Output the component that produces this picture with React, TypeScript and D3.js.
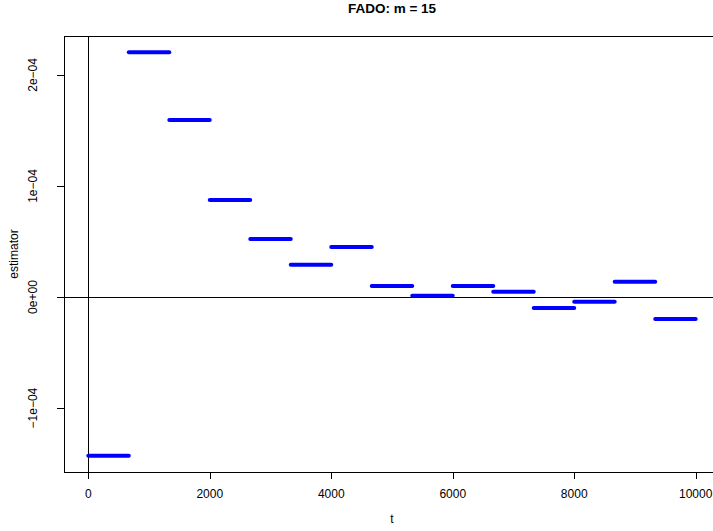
import React, { useEffect, useRef } from "react";
import * as d3 from "d3";

const m = 15;
const tMax = 10000;
const estimates = [
  -1.43e-4, 2.205e-4, 1.595e-4, 0.874e-4, 0.523e-4, 0.291e-4, 0.45e-4, 0.099e-4,
  0.012e-4, 0.099e-4, 0.048e-4, -0.099e-4, -0.042e-4, 0.138e-4, -0.198e-4,
];
const xTicks = [0, 2000, 4000, 6000, 8000, 10000];
const yTicks = [-1e-4, 0, 1e-4, 2e-4];
const yTickLabels = ["\u22121e\u221204", "0e+00", "1e\u221204", "2e\u221204"];

const App = () => {
  const svgRef = useRef<SVGSVGElement>(null);
  const width = 713;
  const height = 531;
  const plot = { left: 64, right: 720, top: 36, bottom: 472 };

  useEffect(() => {
    const svg = d3.select(svgRef.current);
    svg.selectAll("*").remove();

    const yMin = d3.min(estimates) as number;
    const yMax = d3.max(estimates) as number;
    const yPad = (yMax - yMin) * 0.04;

    const x = d3
      .scaleLinear()
      .domain([-tMax * 0.04, tMax * 1.04])
      .range([plot.left, plot.right]);
    const y = d3
      .scaleLinear()
      .domain([yMin - yPad, yMax + yPad])
      .range([plot.bottom, plot.top]);

    const font = "Liberation Sans, Arial, Helvetica, sans-serif";

    // box
    svg
      .append("rect")
      .attr("x", plot.left + 0.5)
      .attr("y", plot.top + 0.5)
      .attr("width", plot.right - plot.left)
      .attr("height", plot.bottom - plot.top)
      .attr("fill", "none")
      .attr("stroke", "black");

    // reference lines
    svg
      .append("line")
      .attr("x1", plot.left)
      .attr("x2", plot.right)
      .attr("y1", Math.round(y(0)) + 0.5)
      .attr("y2", Math.round(y(0)) + 0.5)
      .attr("stroke", "black");
    svg
      .append("line")
      .attr("x1", Math.round(x(0)) + 0.5)
      .attr("x2", Math.round(x(0)) + 0.5)
      .attr("y1", plot.top)
      .attr("y2", plot.bottom)
      .attr("stroke", "black");

    // segments
    const step = tMax / m;
    svg
      .append("g")
      .attr("stroke", "#0000ff")
      .attr("stroke-width", 4)
      .attr("stroke-linecap", "round")
      .selectAll("line")
      .data(estimates)
      .join("line")
      .attr("x1", (d, i) => x(i * step))
      .attr("x2", (d, i) => x((i + 1) * step))
      .attr("y1", (d) => y(d))
      .attr("y2", (d) => y(d));

    // x axis
    const gx = svg.append("g").attr("font-family", font).attr("font-size", 12);
    gx.append("line")
      .attr("x1", x(xTicks[0]))
      .attr("x2", x(xTicks[xTicks.length - 1]))
      .attr("y1", plot.bottom + 0.5)
      .attr("y2", plot.bottom + 0.5)
      .attr("stroke", "black");
    xTicks.forEach((t) => {
      gx.append("line")
        .attr("x1", Math.round(x(t)) + 0.5)
        .attr("x2", Math.round(x(t)) + 0.5)
        .attr("y1", plot.bottom)
        .attr("y2", plot.bottom + 7)
        .attr("stroke", "black");
      gx.append("text")
        .attr("x", x(t))
        .attr("y", 498)
        .attr("text-anchor", "middle")
        .text(t);
    });

    // y axis
    const gy = svg.append("g").attr("font-family", font).attr("font-size", 12);
    gy.append("line")
      .attr("x1", plot.left + 0.5)
      .attr("x2", plot.left + 0.5)
      .attr("y1", y(yTicks[0]))
      .attr("y2", y(yTicks[yTicks.length - 1]))
      .attr("stroke", "black");
    yTicks.forEach((v, i) => {
      gy.append("line")
        .attr("x1", plot.left - 7)
        .attr("x2", plot.left)
        .attr("y1", Math.round(y(v)) + 0.5)
        .attr("y2", Math.round(y(v)) + 0.5)
        .attr("stroke", "black");
      gy.append("text")
        .attr("transform", `translate(37,${y(v)}) rotate(-90)`)
        .attr("text-anchor", "middle")
        .text(yTickLabels[i]);
    });

    // labels
    svg
      .append("text")
      .attr("x", (plot.left + plot.right) / 2)
      .attr("y", 523)
      .attr("text-anchor", "middle")
      .attr("font-family", font)
      .attr("font-size", 12)
      .text("t");
    svg
      .append("text")
      .attr("transform", `translate(18,${(plot.top + plot.bottom) / 2}) rotate(-90)`)
      .attr("text-anchor", "middle")
      .attr("font-family", font)
      .attr("font-size", 12)
      .text("estimator");
    svg
      .append("text")
      .attr("x", (plot.left + plot.right) / 2)
      .attr("y", 12.5)
      .attr("text-anchor", "middle")
      .attr("font-family", font)
      .attr("font-size", 13.5)
      .attr("font-weight", "bold")
      .text("FADO: m = 15");
  }, []);

  return (
    <svg
      ref={svgRef}
      width={width}
      height={height}
      style={{ position: "absolute", left: 0, top: 0, background: "white" }}
    />
  );
};

export default App;
